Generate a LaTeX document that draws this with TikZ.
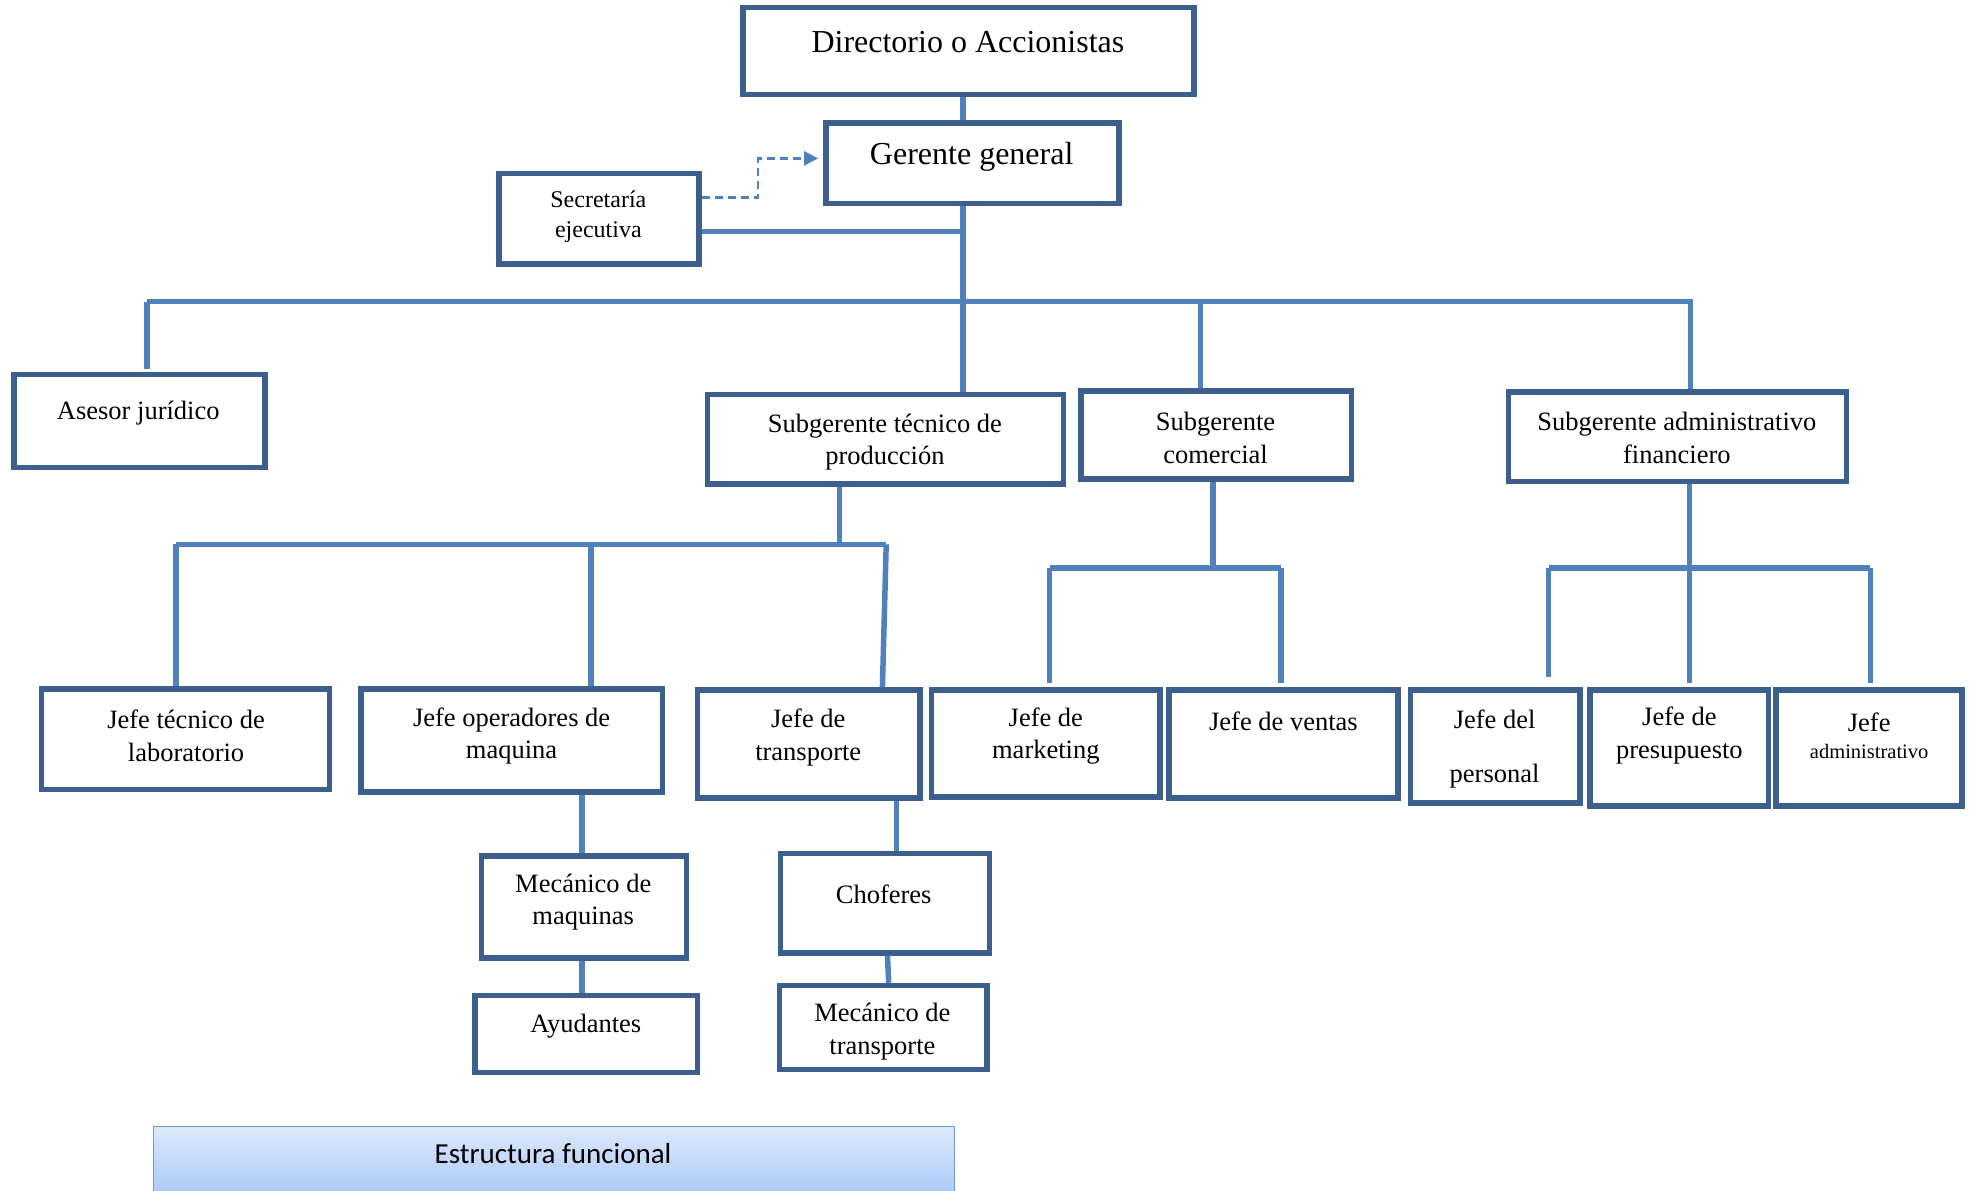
\documentclass[tikz,border=0pt]{standalone}
\usepackage{fontspec}
\setmainfont{Liberation Serif}
\newfontfamily\calib{Carlito}
\usetikzlibrary{fit,arrows.meta}
\definecolor{boxc}{HTML}{3C5F8E}
\definecolor{linec}{HTML}{4F81BD}
\definecolor{bantop}{HTML}{DDE9FC}
\definecolor{banbot}{HTML}{A6C6F7}
\newcommand\fA{\fontsize{32}{39}\selectfont}
\newcommand\fB{\fontsize{26.5}{32.7}\selectfont}
\newcommand\fS{\fontsize{24}{30}\selectfont}
\newcommand\fT{\fontsize{20.5}{26}\selectfont}
\begin{document}
\begin{tikzpicture}[x=1.257pt,y=-1.257pt,
  bx/.style={draw=boxc, line width=5.5pt, fill=white, inner sep=0pt, rectangle},
  conn/.style={draw=linec, line width=5.5pt},
  txt/.style={align=center, inner sep=0pt, font=\fB, yshift=-2pt},
]
\useasboundingbox (0,0) rectangle (1568,947);
% boxes
\node[bx, fit={(591,6) (950,75)}] (dir) {};
\node[bx, fit={(657,98) (890,162)}] (gg) {};
\node[bx, fit={(397,138) (556,210)}] (sec) {};
\node[bx, fit={(11,298) (211,372)}] (ase) {};
\node[bx, fit={(563,314) (846,385)}] (stp) {};
\node[bx, fit={(860,311) (1075,381)}] (com) {};
\node[bx, fit={(1200,312) (1469,383)}] (adm) {};
\node[bx, fit={(33,548) (262,628)}] (jtl) {};
\node[bx, fit={(287,548) (527,630)}] (jop) {};
\node[bx, fit={(555,549) (732,635)}] (jtr) {};
\node[bx, fit={(741,549) (923,634)}] (jmk) {};
\node[bx, fit={(930,549) (1112,635)}] (jve) {};
\node[bx, fit={(1122,549) (1257,639)}] (jpe) {};
\node[bx, fit={(1265,549) (1407,641)}] (jpr) {};
\node[bx, fit={(1413,549) (1561,641)}] (jad) {};
\node[bx, fit={(383,681) (546,762)}] (mm) {};
\node[bx, fit={(378,792) (555,853)}] (ay) {};
\node[bx, fit={(621,679) (787,758)}] (ch) {};
\node[bx, fit={(620,784) (785,851)}] (mt) {};
\node[fit={(122,896) (759,955)}, inner sep=0pt, draw=linec!80, line width=1pt,
      top color=bantop, bottom color=banbot] (ban) {};
% texts
\node[txt, font=\fA] (tdir) at (770,32) {Directorio o Accionistas};
\node[txt, font=\fA] (tgg) at (773,123) {Gerente general};
\node[txt, font=\fS] (tsec) at (476,171) {Secretaría\\ejecutiva};
\node[txt] (tase) at (110,327) {Asesor jurídico};
\node[txt] (tstp) at (704,350) {Subgerente técnico de\\producción};
\node[txt] (tcom) at (967,347) {Subgerente\\comercial};
\node[txt] (tadm) at (1334,347) {Subgerente administrativo\\financiero};
\node[txt] (tjtl) at (148,584) {Jefe técnico de\\laboratorio};
\node[txt] (tjop) at (407,584) {Jefe operadores de\\maquina};
\node[txt] (tjtr) at (643,585) {Jefe de\\transporte};
\node[txt] (tjmk) at (832,584) {Jefe de\\marketing};
\node[txt] (tjve) at (1021,572) {Jefe de ventas};
\node[txt, font=\fontsize{26.5}{54}\selectfont] (tjpe) at (1189,594) {Jefe del\\personal};
\node[txt] (tjpr) at (1336,583.5) {Jefe de\\presupuesto};
\node[txt] (tjad1) at (1487,573) {Jefe};
\node[txt, font=\fT] (tjad2) at (1487,596) {administrativo};
\node[txt] (tmm) at (464,716) {Mecánico de\\maquinas};
\node[txt] (tay) at (466,815) {Ayudantes};
\node[txt] (tch) at (703,710) {Choferes};
\node[txt] (tmt) at (702,819) {Mecánico de\\transporte};
\node[inner sep=0pt, font=\calib\fontsize{29}{35}\selectfont] (tban) at (440,918) {Estructura funcional};
% junction coordinates
\coordinate (j0) at (766,240);
\coordinate (jsec) at (766,184);
\coordinate (busL) at (117,240);
\coordinate (busR) at (1347,240);
\coordinate (bC) at (955,240);
\coordinate (bA) at (1345,240);
\coordinate (dk) at (603,126);
\coordinate (p0) at (668,433);
\coordinate (pL) at (140,433);
\coordinate (pM) at (470,433);
\coordinate (pR) at (705,433);
\coordinate (c0) at (965,452);
\coordinate (cL) at (835,452);
\coordinate (cR) at (1019,452);
\coordinate (a0) at (1344,452);
\coordinate (aL) at (1232,452);
\coordinate (aR) at (1488,452);
% connectors
\draw[conn] (dir.south -| j0) -- (gg.north -| j0);
\draw[conn] (gg.south -| j0) -- (stp.north -| j0);
\draw[conn] (sec.east |- jsec) -- (jsec);
\draw[conn] (busL) -- (busR);
\draw[conn] (busL) -- ([yshift=3pt]ase.north -| busL);
\draw[conn] (bC) -- (com.north -| bC);
\draw[conn] (bA) -- (adm.north -| bA);
\draw[linec, line width=2.5pt, dash pattern=on 8pt off 5pt,
  -{Triangle[length=14pt,width=14pt]}, shorten >=5pt]
  (sec.east |- 0,157) -| (dk) -- (gg.west |- dk);
% production
\draw[conn] (stp.south -| p0) -- (p0);
\draw[conn] (pL) -- (pR);
\draw[conn] (pL) -- (jtl.north -| pL);
\draw[conn] (pM) -- (jop.north -| pM);
\draw[conn] (pR) -- (jtr.north -| 702,0);
\draw[conn] (jop.south -| 463,0) -- (mm.north -| 463,0);
\draw[conn] (mm.south -| 463,0) -- (ay.north -| 463,0);
\draw[conn] (jtr.south -| 713,0) -- (ch.north -| 713,0);
\draw[conn] (ch.south -| 706,0) -- (mt.north -| 707,0);
% comercial
\draw[conn] (com.south -| c0) -- (c0);
\draw[conn] (cL) -- (cR);
\draw[conn] (cL) -- ([yshift=4pt]jmk.north -| cL);
\draw[conn] (cR) -- ([yshift=4pt]jve.north -| cR);
% administrativo
\draw[conn] (adm.south -| a0) -- (a0);
\draw[conn] (aL) -- (aR);
\draw[conn] (aL) -- ([yshift=10pt]jpe.north -| aL);
\draw[conn] (a0) -- ([yshift=4pt]jpr.north -| a0);
\draw[conn] (aR) -- ([yshift=4pt]jad.north -| aR);
\end{tikzpicture}
\end{document}
